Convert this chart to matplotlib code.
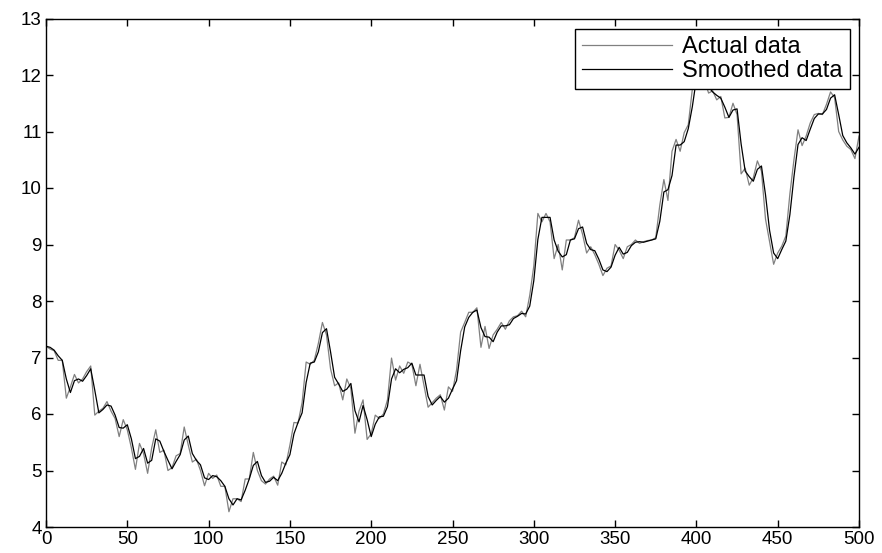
import numpy as np
import matplotlib
matplotlib.use('Agg')
import matplotlib.pyplot as plt

plt.rcParams['font.family'] = ['Liberation Sans', 'DejaVu Sans']

# samples read every 2.5 units from 0 to 500
actual = [7.20, 7.15, 7.12, 6.95, 6.95, 6.28, 6.48, 6.70, 6.55, 6.62,
          6.75, 6.85, 5.98, 6.05, 6.10, 6.22, 6.05, 5.92, 5.60, 5.90,
          5.72, 5.40, 5.02, 5.48, 5.30, 4.95, 5.40, 5.72, 5.32, 5.36,
          5.00, 5.05, 5.26, 5.30, 5.77, 5.45, 5.15, 5.20, 5.00, 4.73,
          4.95, 4.86, 4.92, 4.72, 4.72, 4.27, 4.50, 4.50, 4.45, 4.85,
          4.85, 5.32, 5.00, 4.82, 4.76, 4.85, 4.90, 4.74, 5.15, 5.10,
          5.45, 5.85, 5.84, 6.20, 6.92, 6.88, 6.95, 7.25, 7.62, 7.40,
          6.80, 6.50, 6.55, 6.25, 6.62, 6.45, 5.66, 6.05, 6.25, 5.55,
          5.65, 5.98, 5.92, 6.00, 6.25, 6.99, 6.60, 6.85, 6.72, 6.92,
          6.88, 6.50, 6.88, 6.50, 6.12, 6.20, 6.28, 6.34, 6.07, 6.48,
          6.40, 6.78, 7.45, 7.62, 7.80, 7.80, 7.88, 7.18, 7.55, 7.16,
          7.40, 7.50, 7.62, 7.50, 7.65, 7.72, 7.74, 7.82, 7.72, 8.10,
          8.62, 9.55, 9.40, 9.55, 9.40, 8.75, 9.00, 8.55, 9.08, 9.08,
          9.12, 9.43, 9.18, 8.85, 8.96, 8.82, 8.65, 8.45, 8.58, 8.62,
          9.00, 8.90, 8.75, 8.96, 9.00, 9.08, 9.02, 9.05, 9.07, 9.08,
          9.12, 9.70, 10.15, 9.78, 10.65, 10.86, 10.65, 10.98, 11.12, 11.75,
          12.10, 12.25, 11.90, 11.68, 11.72, 11.56, 11.62, 11.24, 11.25, 11.50,
          11.30, 10.25, 10.35, 10.05, 10.18, 10.48, 10.30, 9.45, 9.05, 8.65,
          8.85, 8.97, 9.15, 9.90, 10.50, 11.03, 10.75, 10.92, 11.15, 11.30,
          11.32, 11.30, 11.48, 11.70, 11.60, 11.00, 10.85, 10.74, 10.68, 10.52,
          10.92]

smoothed = [7.20, 7.18, 7.13, 7.03, 6.95, 6.62, 6.38, 6.59, 6.62, 6.58,
            6.68, 6.80, 6.42, 6.02, 6.08, 6.16, 6.14, 5.98, 5.76, 5.75,
            5.81, 5.56, 5.21, 5.25, 5.39, 5.13, 5.18, 5.56, 5.52, 5.34,
            5.18, 5.03, 5.16, 5.28, 5.54, 5.61, 5.30, 5.18, 5.10, 4.87,
            4.84, 4.91, 4.89, 4.82, 4.72, 4.50, 4.39, 4.50, 4.48, 4.65,
            4.85, 5.09, 5.16, 4.91, 4.79, 4.81, 4.88, 4.82, 4.95, 5.13,
            5.28, 5.65, 5.85, 6.02, 6.56, 6.90, 6.92, 7.10, 7.44, 7.51,
            7.10, 6.65, 6.53, 6.40, 6.44, 6.54, 6.06, 5.86, 6.15, 5.90,
            5.60, 5.82, 5.95, 5.96, 6.13, 6.62, 6.80, 6.73, 6.79, 6.82,
            6.90, 6.69, 6.69, 6.69, 6.31, 6.16, 6.24, 6.31, 6.21, 6.28,
            6.44, 6.59, 7.12, 7.54, 7.71, 7.80, 7.84, 7.53, 7.37, 7.36,
            7.28, 7.45, 7.56, 7.56, 7.58, 7.69, 7.73, 7.78, 7.77, 7.91,
            8.36, 9.09, 9.48, 9.48, 9.48, 9.08, 8.88, 8.78, 8.82, 9.08,
            9.10, 9.28, 9.31, 9.02, 8.91, 8.89, 8.74, 8.55, 8.52, 8.60,
            8.81, 8.95, 8.83, 8.86, 8.98, 9.04, 9.05, 9.04, 9.06, 9.08,
            9.10, 9.41, 9.93, 9.97, 10.22, 10.76, 10.76, 10.82, 11.05, 11.44,
            11.93, 12.18, 12.08, 11.79, 11.70, 11.64, 11.59, 11.43, 11.25, 11.38,
            11.40, 10.78, 10.30, 10.20, 10.12, 10.33, 10.39, 9.88, 9.25, 8.85,
            8.75, 8.91, 9.06, 9.53, 10.20, 10.77, 10.89, 10.84, 11.04, 11.23,
            11.31, 11.31, 11.39, 11.59, 11.65, 11.30, 10.93, 10.80, 10.71, 10.60,
            10.72]

x = np.linspace(0, 500, len(actual))

fig = plt.figure(figsize=(8.82, 5.53), dpi=100)
ax = fig.add_axes([46/882, 1-527/553, (859-46)/882, (527-18.5)/553])

ax.plot(x, actual, color='#808080', lw=0.9, label='Actual data')
ax.plot(x, smoothed, color='black', lw=0.9, label='Smoothed data')

ax.set_xlim(0, 500)
ax.set_ylim(4, 13)
ax.set_xticks(np.arange(0, 501, 50))
ax.set_yticks(np.arange(4, 14, 1))
ax.tick_params(direction='in', top=True, right=True, length=5, width=1,
               labelsize=13.5, pad=3)
for s in ax.spines.values():
    s.set_linewidth(1)

leg = ax.legend(loc='upper right', bbox_to_anchor=(850/882, 1-29/553),
                bbox_transform=fig.transFigure, borderaxespad=0,
                fontsize=17, fancybox=False, framealpha=1,
                edgecolor='black', handlelength=3.8, borderpad=0.3,
                labelspacing=0.08, handletextpad=0.45)
leg.get_frame().set_linewidth(1)

fig.savefig('out.png', dpi=100)
